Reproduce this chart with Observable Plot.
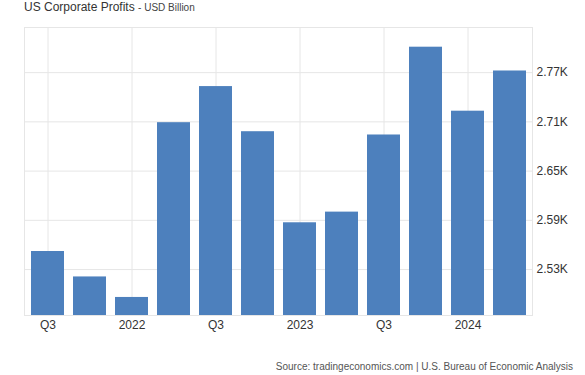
<!DOCTYPE html>
<html>
<head>
<meta charset="utf-8">
<script src="https://cdn.jsdelivr.net/npm/d3@7"></script>
<script src="https://cdn.jsdelivr.net/npm/@observablehq/plot@0.6"></script>
<style>
  html, body { margin: 0; padding: 0; background: #fff; }
  body { width: 585px; height: 375px; position: relative; overflow: hidden; font-family: "Liberation Sans", Arial, sans-serif; }
  #title { position: absolute; left: 24px; top: 0px; color: #333; font-size: 12px; white-space: nowrap; }
  #title span { font-size: 10px; color: #444; }
  #source { position: absolute; right: 12px; top: 361px; color: #555; font-size: 10px; white-space: nowrap; }
  #chart { position: absolute; left: 0; top: 0; }
</style>
</head>
<body>
<div id="chart"></div>
<div id="title">US Corporate Profits <span>- USD Billion</span></div>
<div id="source">Source: tradingeconomics.com | U.S. Bureau of Economic Analysis</div>
<script>
const quarters = ["2021 Q3","2021 Q4","2022 Q1","2022 Q2","2022 Q3","2022 Q4","2023 Q1","2023 Q2","2023 Q3","2023 Q4","2024 Q1","2024 Q2"];
const profits = [2552, 2521, 2496, 2709, 2753, 2698, 2587, 2600, 2694, 2801, 2723, 2772];
const xTickQuarters = ["2021 Q3","2022 Q1","2022 Q3","2023 Q1","2023 Q3","2024 Q1"];
const xTickLabels = ["Q3","2022","Q3","2023","Q3","2024"];
const yTicks = [2530, 2590, 2650, 2710, 2770];

const data = quarters.map((q, i) => ({quarter: q, value: profits[i]}));
const xLabel = new Map(xTickQuarters.map((q, i) => [q, xTickLabels[i]]));

const chart = Plot.plot({
  width: 585,
  height: 375,
  marginTop: 27,
  marginBottom: 60,
  marginLeft: 24,
  marginRight: 53,
  style: {fontFamily: "'Liberation Sans', Arial, sans-serif", fontSize: "12px", color: "#333", background: "#fff"},
  x: {type: "band", domain: quarters, paddingInner: 0.22, paddingOuter: 0.11},
  y: {domain: [2474, 2825]},
  marks: [
    Plot.gridX(xTickQuarters, {stroke: "#e6e6e6", strokeOpacity: 1}),
    Plot.gridY(yTicks, {stroke: "#e6e6e6", strokeOpacity: 1}),
    Plot.frame({stroke: "#e6e6e6"}),
    Plot.barY(data, {x: "quarter", y1: 2474, y2: "value", fill: "#4d80bd"}),
    Plot.axisX(xTickQuarters, {tickSize: 0, tickPadding: 5, tickFormat: d => xLabel.get(d), fill: "#333", fontSize: 12, label: null}),
    Plot.axisY(yTicks, {anchor: "right", tickSize: 0, tickPadding: 4, tickFormat: d => (d / 1000).toFixed(2) + "K", fill: "#333", fontSize: 12, label: null})
  ]
});
document.getElementById("chart").appendChild(chart);
</script>
</body>
</html>
